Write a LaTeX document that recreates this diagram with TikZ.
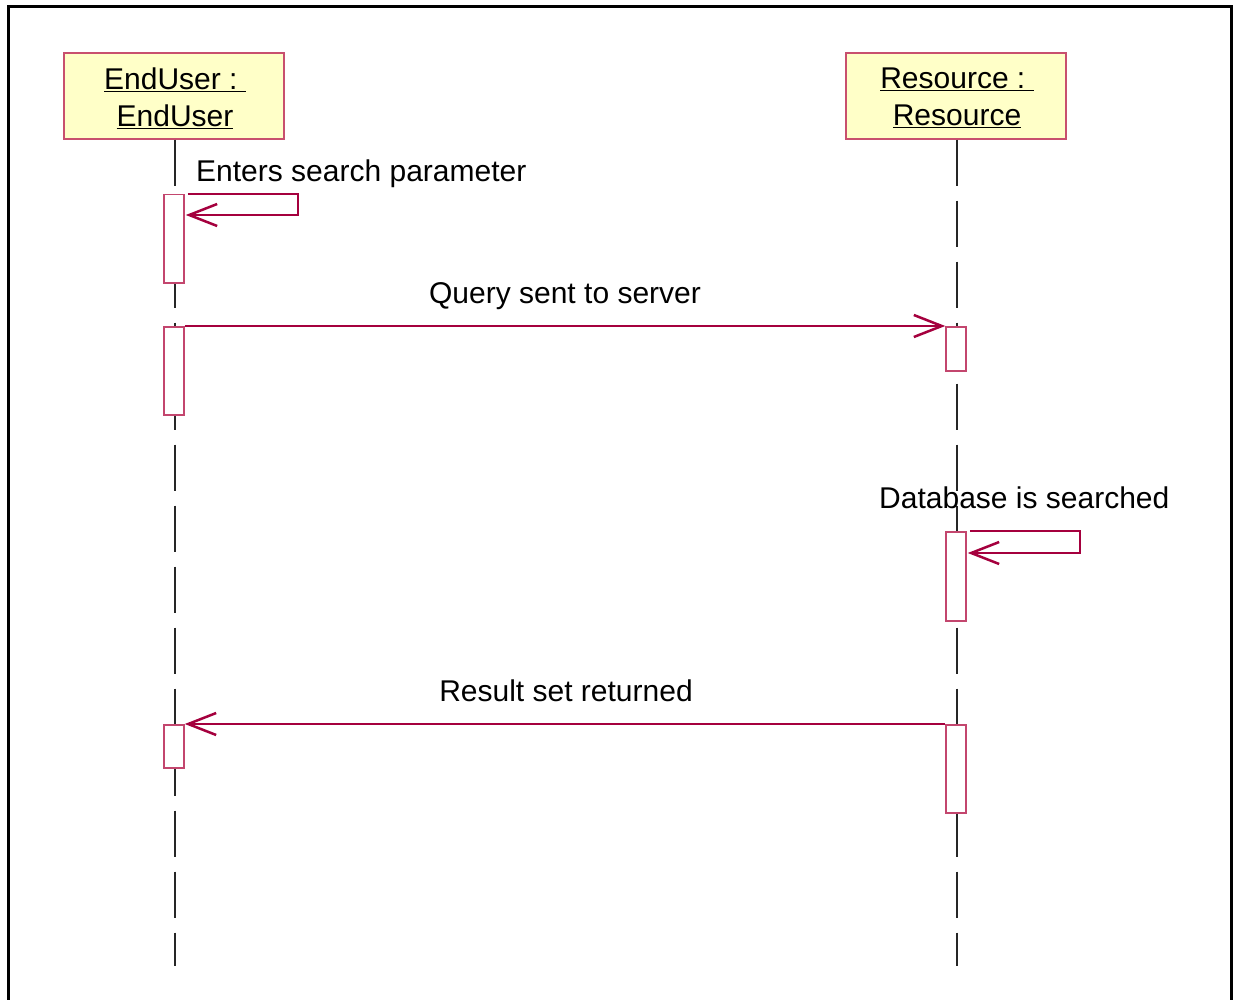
\documentclass[tikz,border=0pt]{standalone}
\usepackage{fontspec}
\setmainfont{Liberation Sans}
\usetikzlibrary{arrows.meta}
\definecolor{headfill}{RGB}{255,255,200}
\definecolor{headline}{RGB}{200,80,110}
\definecolor{actline}{RGB}{195,70,110}
\definecolor{msgcol}{RGB}{165,0,62}
\begin{document}
\begin{tikzpicture}[x=1pt,y=-1pt,
  txt/.style={font=\fontsize{30}{37}\selectfont},
  head/.style={txt, draw=headline, fill=headfill, line width=1.2pt,
    minimum width=220pt, minimum height=86pt, inner sep=0pt, align=center},
  activation/.style={draw=actline, fill=white, line width=1.5pt,
    minimum width=20pt, inner sep=0pt, anchor=north},
  lifeline/.style={draw=black!85, line width=1.2pt, dash pattern=on 46pt off 15pt},
  msg/.style={draw=msgcol, line width=1.5pt,
    -{Straight Barb[length=28pt,width=22pt,line width=2.5pt]}},
  lbl/.style={txt, inner sep=0pt, anchor=base}]
\useasboundingbox (0,0) rectangle (1238,1000);
\fill[white] (0,0) rectangle (1238,1000);

% frame (open at the bottom)
\draw[line width=3pt] (8,1002) -- (8,7) -- (1231,7) -- (1231,1002);

% lifeline heads
\node[head] (eu)  at (174,96) {};
\node[head] (res) at (956,96) {};
\node[txt, align=center, inner sep=0pt] (eut) at ([xshift=1pt,yshift=-2pt]eu.center)
  {\underline{EndUser :\ }\\\underline{EndUser}};
\node[txt, align=center, inner sep=0pt] (rest) at ([xshift=1pt,yshift=-2pt]res.center)
  {\underline{Resource :\ }\\\underline{Resource}};

% lifelines
\coordinate (lend) at (0,966);
\draw[lifeline] ([xshift=1pt]eu.south) -- ([xshift=1pt]eu.south |- lend);
\draw[lifeline] ([xshift=1pt]res.south) -- ([xshift=1pt]res.south |- lend);

% activations
\node[activation, minimum height=88pt] (a1) at (174,194) {};
\node[activation, minimum height=88pt] (a2) at (174,326) {};
\node[activation, minimum height=44pt] (a3) at (956,326) {};
\node[activation, minimum height=89pt] (a4) at (956,531) {};
\node[activation, minimum height=43pt] (a5) at (174,724) {};
\node[activation, minimum height=88pt] (a6) at (956,724) {};

% messages
\coordinate (s1) at (298,215);
\draw[msg] ([xshift=3pt]a1.north east) -| (s1) -- ([xshift=1pt]a1.east |- s1);
\node[lbl, anchor=base west] (l1) at (196,182) {Enters search parameter};

\draw[msg] (a2.north east) -- (a3.north west);
\node[lbl] (l2) at (565,303) {Query sent to server};

\coordinate (s2) at (1080,553);
\draw[msg] ([xshift=3pt]a4.north east) -| (s2) -- ([xshift=1pt]a4.east |- s2);
\node[lbl, anchor=base west] (l3) at (879,508) {Database is searched};

\draw[msg] (a6.north west) -- (a5.north east);
\node[lbl] (l4) at (566,701) {Result set returned};
\end{tikzpicture}
\end{document}
